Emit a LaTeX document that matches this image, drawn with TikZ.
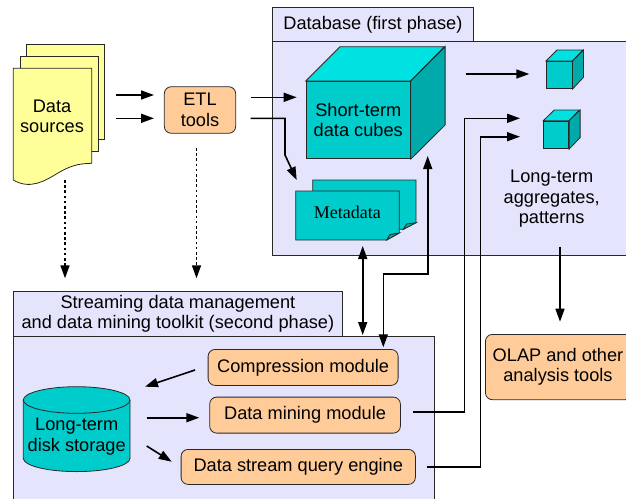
\documentclass[tikz,border=0pt]{standalone}
\usepackage{fontspec}
\setmainfont{Liberation Sans}
\newfontfamily\serifface{Liberation Serif}
\usetikzlibrary{arrows.meta}
\definecolor{lav}{RGB}{228,228,252}
\definecolor{peachc}{RGB}{255,204,153}
\definecolor{docyellow}{RGB}{255,255,153}
\definecolor{cyanfront}{RGB}{0,204,204}
\definecolor{cyantop}{RGB}{0,226,226}
\definecolor{cyanside}{RGB}{0,170,170}
\definecolor{edge}{RGB}{40,40,40}
\tikzset{
  frame/.style={draw=edge, line width=0.8pt},
  panel/.style={frame, fill=lav, inner sep=0pt, align=center},
  peachbox/.style={frame, fill=peachc, rounded corners=7pt, inner sep=0pt, align=center},
  cubeface/.style={frame, fill=cyanfront, inner sep=0pt, align=center},
  txt/.style={inner sep=0pt, align=center},
  conn/.style={line width=1.6pt, -{Triangle[length=13pt,width=9pt]}},
  dual/.style={line width=1.6pt, {Triangle[length=13pt,width=9pt]}-{Triangle[length=13pt,width=9pt]}},
  dots/.style={conn, dash pattern=on 2.6pt off 2.6pt}
}
\begin{document}
\begin{tikzpicture}[x=1pt,y=-1pt,font=\fontsize{18.2}{20.5}\selectfont]
\useasboundingbox (0,0) rectangle (626,498);
\begin{scope}
\clip (0,0) rectangle (626,498);
% panels
\node[panel, minimum width=358.3pt, minimum height=214.3pt, anchor=north west] (db) at (271.7,40.7) {};
\node[panel, minimum width=201.6pt, minimum height=33.4pt, anchor=north west] (dbtab) at (271.7,7.3) {Database (first phase)};
\node[panel, minimum width=421.3pt, minimum height=172pt, anchor=north west] (st) at (12.7,336) {};
\node[panel, minimum width=329.6pt, minimum height=45.3pt, anchor=north west] (sttab) at (12.7,290.7) {Streaming data management\\and data mining toolkit (second phase)};

% data sources (stacked documents)
\draw[frame, fill=docyellow] (26.7,44.3) rectangle (104.3,139);
\draw[frame, fill=docyellow] (20,56.7) rectangle (98.3,151);
\draw[frame, fill=docyellow] (13.3,68.3) -- (91.7,68.3) -- (91.7,163.3)
  .. controls (78,163.5) and (70,166) .. (58,173)
  .. controls (45,181) and (30,190) .. (13.3,180) -- cycle;
\node[txt] (ds) at (52,116.5) {Data\\sources};

% ETL
\node[peachbox, minimum width=71.4pt, minimum height=46.6pt] (etl) at (200,110) {ETL\\tools};

% big cube
\node[cubeface, minimum width=104.3pt, minimum height=77.3pt, anchor=north west] (cube) at (305.7,81) {Short-term\\data cubes};
\draw[frame, fill=cyantop] (cube.north west) -- ++(34.3,-34.3) -- ++(104.3,0) -- (cube.north east) -- cycle;
\draw[frame, fill=cyanside] (cube.north east) -- ++(34.3,-34.3) -- ++(0,78.3) -- (cube.south east) -- cycle;

% small cubes
\node[cubeface, minimum width=25.7pt, minimum height=27.3pt, anchor=north west] (sca) at (546,61) {};
\draw[frame, fill=cyantop] (sca.north west) -- ++(11,-11) -- ++(25.7,0) -- (sca.north east) -- cycle;
\draw[frame, fill=cyanside] (sca.north east) -- ++(11,-11) -- ++(0,27.3) -- (sca.south east) -- cycle;
\node[cubeface, minimum width=25pt, minimum height=27.6pt, anchor=north west] (scb) at (543.3,120.7) {};
\draw[frame, fill=cyantop] (scb.north west) -- ++(11,-10.7) -- ++(25,0) -- (scb.north east) -- cycle;
\draw[frame, fill=cyanside] (scb.north east) -- ++(11,-10.7) -- ++(0,27.6) -- (scb.south east) -- cycle;

\node[txt] (lta) at (551.7,198.7) {Long-term\\aggregates,\\patterns};

% metadata
\draw[frame, fill=cyanfront] (312.7,180) -- (416,180) -- (416,222.7) -- (403.3,229.3) -- (312.7,229.3) -- cycle;
\draw[frame, fill=cyanside] (403.3,229.3) -- (406.5,224) -- (416,222.7) -- cycle;
\draw[frame, fill=cyanfront] (295.7,191) -- (399.3,191) -- (399.3,233) -- (386.7,240) -- (295.7,240) -- cycle;
\draw[frame, fill=cyanside] (386.7,240) -- (390,234.5) -- (399.3,233) -- cycle;
\node[txt, font=\serifface\fontsize{18}{20}\selectfont] (meta) at (347.3,212.3) {Metadata};

% OLAP
\node[peachbox, minimum width=147pt, minimum height=65.3pt, anchor=north west] (olap) at (485,334) {};
\node[txt] (olaptxt) at (558,366.7) {OLAP and other\\analysis tools};

% streaming modules
\node[peachbox, minimum width=190pt, minimum height=36pt, anchor=north west] (comp) at (207.7,349) {Compression module};
\node[peachbox, minimum width=190.7pt, minimum height=36pt, anchor=north west] (mine) at (209.3,396.7) {Data mining module};
\node[peachbox, minimum width=234.3pt, minimum height=35pt, anchor=north west] (query) at (180.7,449) {Data stream query engine};

% disk cylinder
\draw[frame, fill=cyanfront] (23.3,400) -- (23.3,458.3)
  arc[start angle=180, end angle=360, x radius=53.35pt, y radius=13.3pt]
  -- (130,400)
  arc[start angle=0, end angle=180, x radius=53.35pt, y radius=13.3pt] -- cycle;
\draw[frame] (130,400) arc[start angle=0, end angle=-180, x radius=53.35pt, y radius=13.3pt];
\node[txt] (disk) at (76.7,436.5) {Long-term\\disk storage};

% connector end points
\coordinate (dsa) at (116,95);      \coordinate (etla) at (154,95);
\coordinate (dsb) at (116,118.3);   \coordinate (etlb) at (154,118.3);
\coordinate (etlo) at (250.7,97.3); \coordinate (cubein) at (296.7,97.3);
\coordinate (etlp) at (250.7,118.3);\coordinate (metain) at (296.7,180);
\coordinate (cubeo) at (465.7,74);  \coordinate (scain) at (529.3,74);
\coordinate (mineo) at (413.3,411.7); \coordinate (scbina) at (520,118.3);
\coordinate (queryo) at (426.7,466.7); \coordinate (scbinb) at (520,136.7);
\coordinate (ltao) at (560,246.7);  \coordinate (olapin) at (560,321.7);
\coordinate (metab) at (362.7,246); \coordinate (sttop) at (362.7,335);
\coordinate (cubeb) at (427.7,156); \coordinate (compt) at (383.3,347.3);
\coordinate (dso) at (65,180);      \coordinate (dsst) at (65,278.3);
\coordinate (etld) at (196.5,148);  \coordinate (etlst) at (196.5,278.3);
\coordinate (compo) at (195,370);   \coordinate (diskin) at (145,386.7);
\coordinate (diska) at (146.7,417.7); \coordinate (minein) at (199.3,417.7);
\coordinate (diskb) at (146.7,446); \coordinate (queryin) at (171.7,461.7);

% connectors
\draw[conn] (dsa) -- (etla);
\draw[conn] (dsb) -- (etlb);
\draw[conn] (etlo) -- (cubein);
\draw[conn] (etlp) -- (285,118.3) -- (285,155) -- (metain);
\draw[conn] (cubeo) -- (scain);
\draw[conn] (mineo) -- (464.3,411.7) -- (464.3,118.3) -- (scbina);
\draw[conn] (queryo) -- (480.5,466.7) -- (480.5,136.7) -- (scbinb);
\draw[conn] (ltao) -- (olapin);
\draw[dual] (metab) -- (sttop);
\draw[dual] (cubeb) -- (427.7,274) -- (383.3,274) -- (compt);
\draw[dots] (dso) -- (dsst);
\draw[dots] (etld) -- (etlst);
\draw[conn] (compo) -- (diskin);
\draw[conn] (diska) -- (minein);
\draw[conn] (diskb) -- (queryin);
\end{scope}
\end{tikzpicture}
\end{document}
